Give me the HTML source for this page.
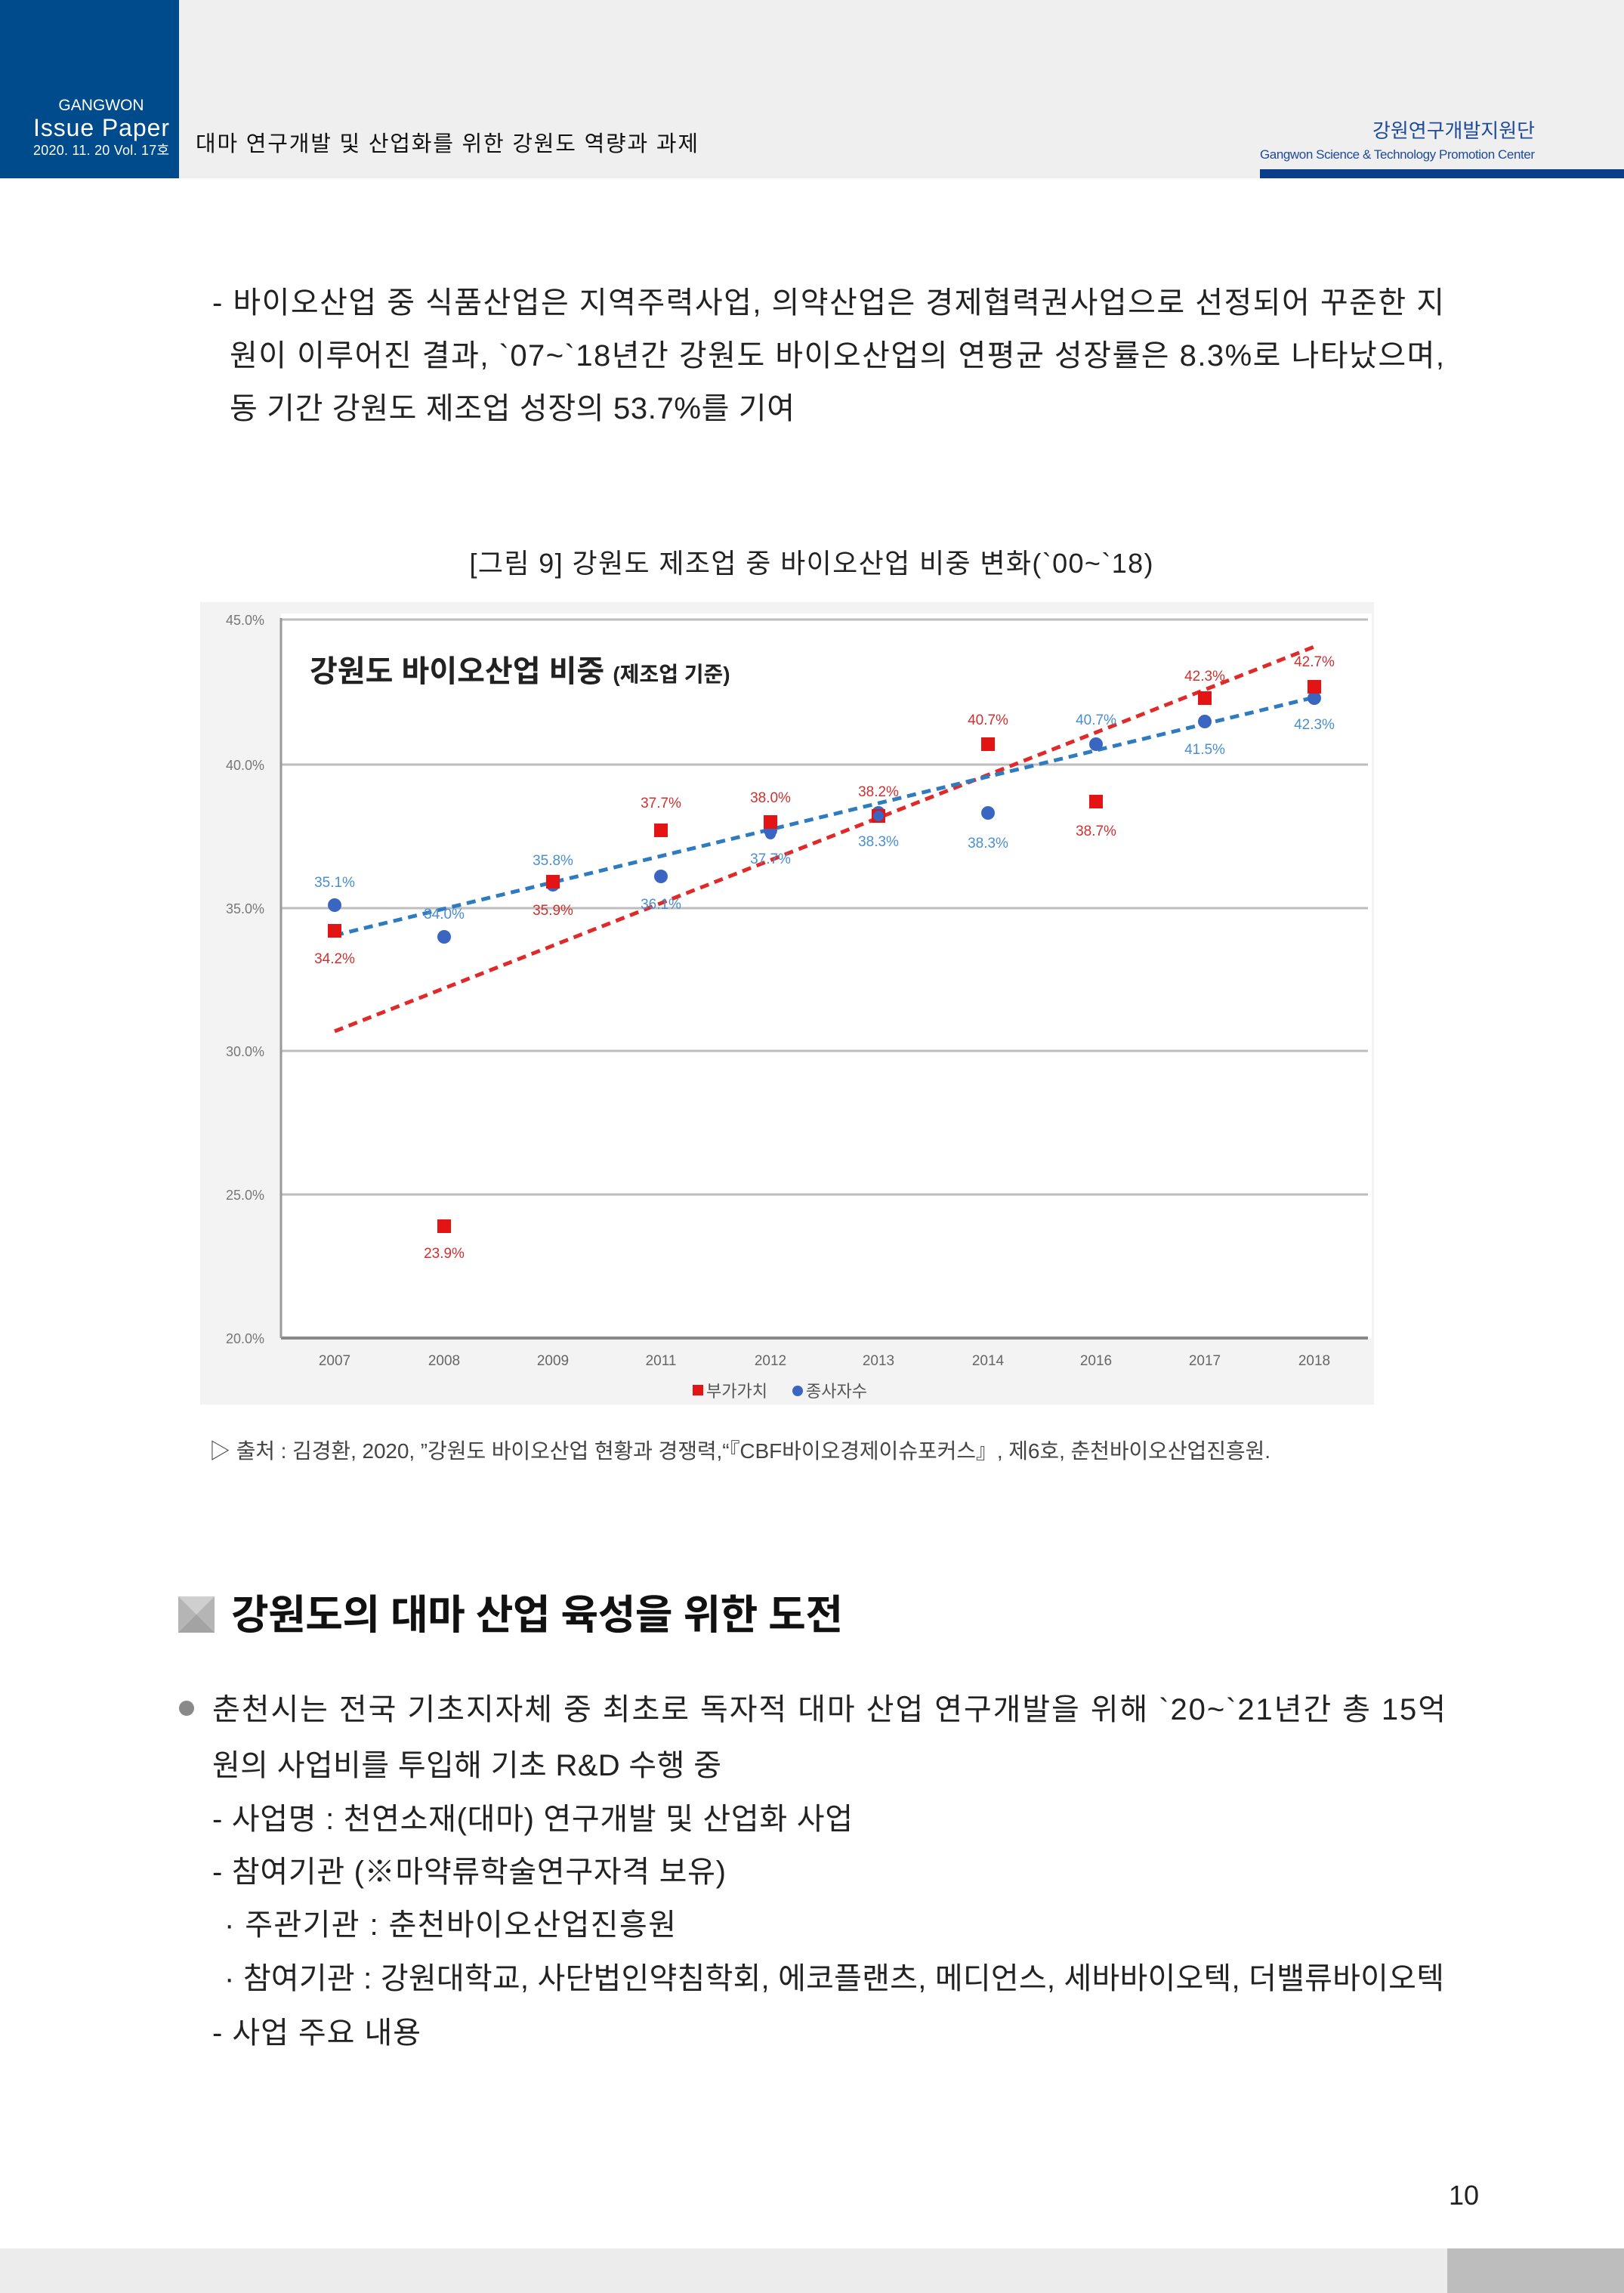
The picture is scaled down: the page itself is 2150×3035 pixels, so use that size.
<!DOCTYPE html>
<html><head><meta charset="utf-8"><style>
html,body{margin:0;padding:0;background:#fff}
svg{display:block}
text{font-family:"Liberation Sans","Noto Sans CJK KR",sans-serif}
</style></head><body>
<svg width="2150" height="3035" viewBox="0 0 2150 3035" xmlns="http://www.w3.org/2000/svg">
<!-- header -->
<rect x="0" y="0" width="2150" height="236" fill="#efefef"/>
<rect x="0" y="0" width="237" height="236" fill="#004b8c"/>
<rect x="1668" y="224" width="482" height="12" fill="#0a3d8a"/>
<text x="134" y="146" fill="#fff" font-size="21" text-anchor="middle">GANGWON</text>
<text x="134" y="180" fill="#fff" font-size="32" text-anchor="middle" textLength="180">Issue Paper</text>
<text x="134" y="205" fill="#fff" font-size="18" text-anchor="middle" textLength="180">2020. 11. 20  Vol. 17호</text>
<text x="259" y="200" fill="#111" font-size="29" textLength="665">대마 연구개발 및 산업화를 위한 강원도 역량과 과제</text>
<text x="2032" y="182" fill="#1d4b9b" font-size="26" text-anchor="end" textLength="215">강원연구개발지원단</text>
<text x="2032" y="210" fill="#1d4b9b" font-size="17" text-anchor="end" textLength="364">Gangwon Science &amp; Technology Promotion Center</text>

<!-- paragraph -->
<g font-size="40" fill="#222">
<text x="281" y="414" textLength="1631">- 바이오산업 중 식품산업은 지역주력사업, 의약산업은 경제협력권사업으로 선정되어 꾸준한 지</text>
<text x="304" y="484" textLength="1608">원이 이루어진 결과, `07~`18년간 강원도 바이오산업의 연평균 성장률은 8.3%로 나타났으며,</text>
<text x="304" y="554" textLength="748">동 기간 강원도 제조업 성장의 53.7%를 기여</text>
</g>
<text x="1074" y="758" font-size="36" fill="#222" text-anchor="middle" textLength="905">[그림 9] 강원도 제조업 중 바이오산업 비중 변화(`00~`18)</text>

<!-- chart -->
<rect x="265" y="797" width="1554" height="1062" fill="#f3f3f3"/>
<rect x="372" y="812" width="1444" height="960" fill="#fff"/>
<g stroke="#bdbdbd" stroke-width="3">
<line x1="372" y1="820" x2="1811" y2="820"/>
<line x1="372" y1="1012" x2="1811" y2="1012"/>
<line x1="372" y1="1202" x2="1811" y2="1202"/>
<line x1="372" y1="1391" x2="1811" y2="1391"/>
<line x1="372" y1="1581" x2="1811" y2="1581"/>
</g>
<line x1="372" y1="1771" x2="1811" y2="1771" stroke="#888" stroke-width="4"/>
<line x1="372" y1="818" x2="372" y2="1771" stroke="#999" stroke-width="3"/>
<g font-size="18" fill="#777" text-anchor="end">
<text x="350" y="827">45.0%</text><text x="350" y="1019">40.0%</text><text x="350" y="1209">35.0%</text>
<text x="350" y="1398">30.0%</text><text x="350" y="1588">25.0%</text><text x="350" y="1778">20.0%</text>
</g>
<g font-size="19" fill="#666" text-anchor="middle">
<text x="443" y="1807">2007</text><text x="588" y="1807">2008</text><text x="732" y="1807">2009</text>
<text x="875" y="1807">2011</text><text x="1020" y="1807">2012</text><text x="1163" y="1807">2013</text>
<text x="1308" y="1807">2014</text><text x="1451" y="1807">2016</text><text x="1595" y="1807">2017</text>
<text x="1740" y="1807">2018</text>
</g>
<text x="410" y="902" font-size="40" font-weight="bold" fill="#222">강원도 바이오산업 비중 <tspan font-size="28">(제조업 기준)</tspan></text>
<!-- trendlines -->
<line x1="443" y1="1365" x2="1740" y2="856" stroke="#e02a2a" stroke-width="5" stroke-dasharray="12,8"/>
<line x1="443" y1="1238" x2="1740" y2="923" stroke="#2f7bc0" stroke-width="5" stroke-dasharray="12,8"/>
<!-- blue dots -->
<g fill="#3a66c2">
<circle cx="443" cy="1198" r="9"/><circle cx="588" cy="1240" r="9"/><circle cx="732" cy="1171" r="9"/>
<circle cx="875" cy="1160" r="9"/><circle cx="1020" cy="1099" r="9"/><circle cx="1163" cy="1076" r="9"/>
<circle cx="1308" cy="1076" r="9"/><circle cx="1451" cy="985" r="9"/><circle cx="1595" cy="955" r="9"/>
<circle cx="1740" cy="924" r="9"/>
</g>
<!-- red squares -->
<g fill="#e31414">
<rect x="434" y="1223" width="18" height="18"/><rect x="579" y="1614" width="18" height="18"/>
<rect x="723" y="1158" width="18" height="18"/><rect x="866" y="1090" width="18" height="18"/>
<rect x="1011" y="1079" width="18" height="18"/><rect x="1154" y="1071" width="18" height="18"/>
<rect x="1299" y="976" width="18" height="18"/><rect x="1442" y="1052" width="18" height="18"/>
<rect x="1586" y="915" width="18" height="18"/><rect x="1731" y="900" width="18" height="18"/>
</g>
<g fill="#3a66c2">
<circle cx="1020" cy="1104" r="7"/><circle cx="1163" cy="1080" r="7"/><circle cx="1740" cy="926" r="7"/>
</g>
<g font-size="19" fill="#d03030" text-anchor="middle">
<text x="443" y="1275">34.2%</text><text x="588" y="1665">23.9%</text><text x="732" y="1211">35.9%</text>
<text x="875" y="1069">37.7%</text><text x="1020" y="1062">38.0%</text><text x="1163" y="1054">38.2%</text>
<text x="1308" y="959">40.7%</text><text x="1451" y="1106">38.7%</text><text x="1595" y="901">42.3%</text>
<text x="1740" y="882">42.7%</text>
</g>
<g font-size="19" fill="#4a8fcf" text-anchor="middle">
<text x="443" y="1174">35.1%</text><text x="588" y="1216">34.0%</text><text x="732" y="1145">35.8%</text>
<text x="875" y="1203">36.1%</text><text x="1020" y="1143">37.7%</text><text x="1163" y="1120">38.3%</text>
<text x="1308" y="1122">38.3%</text><text x="1451" y="959">40.7%</text><text x="1595" y="998">41.5%</text>
<text x="1740" y="965">42.3%</text>
</g>
<rect x="917" y="1833" width="14" height="14" fill="#e31414"/>
<text x="935" y="1849" font-size="22" fill="#555">부가가치</text>
<circle cx="1056" cy="1841" r="7" fill="#3a66c2"/>
<text x="1067" y="1849" font-size="22" fill="#555">종사자수</text>

<text x="277" y="1930" font-size="28" fill="#444" textLength="1405">▷ 출처 : 김경환, 2020, ”강원도 바이오산업 현황과 경쟁력,“『CBF바이오경제이슈포커스』, 제6호, 춘천바이오산업진흥원.</text>

<!-- section -->
<rect x="236" y="2113" width="48" height="48" fill="#b5b5b5"/>
<polygon points="236,2113 284,2113 260,2137" fill="#cfcfcf"/>
<polygon points="236,2161 284,2161 260,2137" fill="#a3a3a3"/>
<text x="306" y="2156" font-size="54" font-weight="bold" fill="#111" textLength="810">강원도의 대마 산업 육성을 위한 도전</text>

<circle cx="247" cy="2261" r="10" fill="#8a8a8a"/>
<g font-size="40" fill="#222">
<text x="281" y="2276" textLength="1633">춘천시는 전국 기초지자체 중 최초로 독자적 대마 산업 연구개발을 위해 `20~`21년간 총 15억</text>
<text x="281" y="2350" textLength="674">원의 사업비를 투입해 기초 R&amp;D 수행 중</text>
<text x="281" y="2421" textLength="848">- 사업명 : 천연소재(대마) 연구개발 및 산업화 사업</text>
<text x="281" y="2491" textLength="680">- 참여기관 (※마약류학술연구자격 보유)</text>
<text x="297" y="2561" textLength="598">· 주관기관 : 춘천바이오산업진흥원</text>
<text x="297" y="2632" textLength="1615">· 참여기관 : 강원대학교, 사단법인약침학회, 에코플랜츠, 메디언스, 세바바이오텍, 더밸류바이오텍</text>
<text x="281" y="2704" textLength="276">- 사업 주요 내용</text>
</g>
<text x="1958" y="2918" font-size="36" fill="#222" text-anchor="end">10</text>
<rect x="0" y="2976" width="2150" height="59" fill="#ececec"/>
<rect x="1916" y="2976" width="234" height="59" fill="#bdbdbd"/>
</svg>
</body></html>
